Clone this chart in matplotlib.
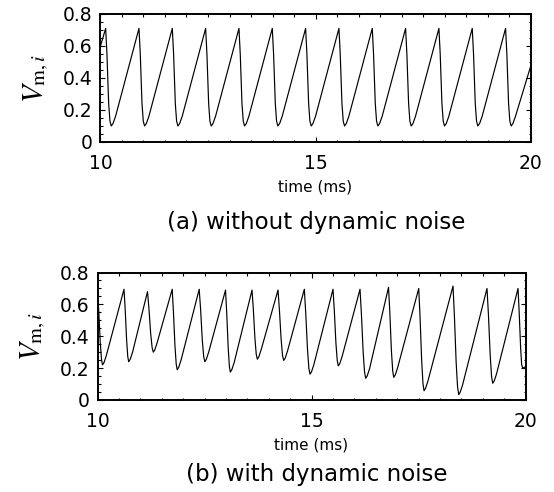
import matplotlib
matplotlib.use("Agg")
import matplotlib.pyplot as plt
from matplotlib.ticker import MultipleLocator

# (a) without dynamic noise: membrane potential trace
top_t = [
    10.00,
    10.12, 10.15, 10.19, 10.22, 10.25, 10.29, 10.35,
    10.895, 10.925, 10.965, 10.995, 11.025, 11.065, 11.125,
    11.67, 11.70, 11.74, 11.77, 11.80, 11.84, 11.90,
    12.445, 12.475, 12.515, 12.545, 12.575, 12.615, 12.675,
    13.22, 13.25, 13.29, 13.32, 13.35, 13.39, 13.45,
    13.995, 14.025, 14.065, 14.095, 14.125, 14.165, 14.225,
    14.77, 14.80, 14.84, 14.87, 14.90, 14.94, 15.00,
    15.545, 15.575, 15.615, 15.645, 15.675, 15.715, 15.775,
    16.32, 16.35, 16.39, 16.42, 16.45, 16.49, 16.55,
    17.095, 17.125, 17.165, 17.195, 17.225, 17.265, 17.325,
    17.87, 17.90, 17.94, 17.97, 18.00, 18.04, 18.10,
    18.645, 18.675, 18.715, 18.745, 18.775, 18.815, 18.875,
    19.42, 19.45, 19.49, 19.52, 19.55, 19.59, 19.65,
    20.00,
]
top_v = [
    0.60,
    0.71, 0.55, 0.24, 0.13, 0.10, 0.115, 0.16,
    0.71, 0.55, 0.24, 0.13, 0.10, 0.115, 0.16,
    0.71, 0.55, 0.24, 0.13, 0.10, 0.115, 0.16,
    0.71, 0.55, 0.24, 0.13, 0.10, 0.115, 0.16,
    0.71, 0.55, 0.24, 0.13, 0.10, 0.115, 0.16,
    0.71, 0.55, 0.24, 0.13, 0.10, 0.115, 0.16,
    0.71, 0.55, 0.24, 0.13, 0.10, 0.115, 0.16,
    0.71, 0.55, 0.24, 0.13, 0.10, 0.115, 0.16,
    0.71, 0.55, 0.24, 0.13, 0.10, 0.115, 0.16,
    0.71, 0.55, 0.24, 0.13, 0.10, 0.115, 0.16,
    0.71, 0.55, 0.24, 0.13, 0.10, 0.115, 0.16,
    0.71, 0.55, 0.24, 0.13, 0.10, 0.115, 0.16,
    0.71, 0.55, 0.24, 0.13, 0.10, 0.115, 0.16,
    0.47,
]

# (b) with dynamic noise
bot_t = [
    10.000, 10.029, 10.064, 10.094, 10.117, 10.152, 10.207,
    10.619, 10.647, 10.680, 10.707, 10.729, 10.764, 10.819,
    11.168, 11.202, 11.243, 11.277, 11.304, 11.339, 11.394,
    11.745, 11.774, 11.809, 11.839, 11.862, 11.897, 11.952,
    12.376, 12.409, 12.448, 12.481, 12.507, 12.542, 12.597,
    12.991, 13.019, 13.053, 13.081, 13.103, 13.138, 13.193,
    13.610, 13.641, 13.678, 13.709, 13.734, 13.769, 13.824,
    14.217, 14.250, 14.290, 14.323, 14.350, 14.385, 14.440,
    14.832, 14.865, 14.905, 14.938, 14.965, 15.000, 15.055,
    15.502, 15.533, 15.570, 15.601, 15.626, 15.661, 15.716,
    16.133, 16.166, 16.206, 16.239, 16.266, 16.301, 16.356,
    16.799, 16.830, 16.866, 16.897, 16.921, 16.956, 17.011,
    17.505, 17.536, 17.573, 17.604, 17.629, 17.664, 17.719,
    18.306, 18.339, 18.379, 18.412, 18.439, 18.474, 18.529,
    19.100, 19.134, 19.174, 19.207, 19.234, 19.269, 19.324,
    19.825, 19.852, 19.885, 19.910, 19.935, 19.970, 20.000,
]
bot_v = [
    0.690, 0.558, 0.361, 0.253, 0.220, 0.235, 0.280,
    0.695, 0.568, 0.377, 0.272, 0.240, 0.255, 0.300,
    0.680, 0.574, 0.414, 0.327, 0.300, 0.315, 0.360,
    0.695, 0.554, 0.342, 0.225, 0.190, 0.205, 0.250,
    0.695, 0.568, 0.377, 0.272, 0.240, 0.255, 0.300,
    0.690, 0.546, 0.330, 0.211, 0.175, 0.190, 0.235,
    0.690, 0.568, 0.386, 0.286, 0.256, 0.271, 0.316,
    0.690, 0.566, 0.381, 0.279, 0.248, 0.263, 0.308,
    0.695, 0.546, 0.322, 0.199, 0.162, 0.177, 0.222,
    0.695, 0.560, 0.358, 0.248, 0.214, 0.229, 0.274,
    0.695, 0.538, 0.304, 0.175, 0.136, 0.151, 0.196,
    0.707, 0.549, 0.312, 0.182, 0.142, 0.157, 0.202,
    0.700, 0.520, 0.251, 0.103, 0.058, 0.073, 0.118,
    0.715, 0.524, 0.238, 0.082, 0.034, 0.049, 0.094,
    0.700, 0.533, 0.284, 0.147, 0.105, 0.120, 0.165,
    0.700, 0.550, 0.330, 0.220, 0.200, 0.205, 0.210,
]

x_ticks = [10, 15, 20]
y_ticks = [0, 0.2, 0.4, 0.6, 0.8]
y_ticklabels = ["0", "0.2", "0.4", "0.6", "0.8"]
captions = ["(a) without dynamic noise", "(b) with dynamic noise"]

plt.rcParams["mathtext.fontset"] = "stix"

fig = plt.figure(figsize=(5.54, 4.92), dpi=100)
ax_top = fig.add_axes([0.1814, 0.7114, 0.7762, 0.2602])
ax_bot = fig.add_axes([0.1760, 0.1870, 0.7726, 0.2591])


def style_axes(ax):
    ax.set_xlim(10, 20)
    ax.set_ylim(0, 0.8)
    ax.set_xticks(x_ticks)
    ax.set_xticklabels([str(x) for x in x_ticks])
    ax.set_yticks(y_ticks)
    ax.set_yticklabels(y_ticklabels)
    ax.xaxis.set_minor_locator(MultipleLocator(0.5))
    ax.yaxis.set_minor_locator(MultipleLocator(0.05))
    ax.tick_params(which="both", direction="in", top=True, right=True, width=0.8)
    ax.tick_params(which="major", length=3.5, labelsize=13.5)
    ax.tick_params(which="minor", length=1.8)
    ax.tick_params(axis="x", pad=9)
    ax.tick_params(axis="y", pad=6)
    for sp in ax.spines.values():
        sp.set_linewidth(1.4)
    ax.set_xlabel("time (ms)", fontsize=11, labelpad=4)
    ax.set_ylabel(r"$V_{\mathrm{m},i}$", fontsize=21, labelpad=8)


ax_top.plot(top_t, top_v, color="black", lw=0.85)
ax_bot.plot(bot_t, bot_v, color="black", lw=0.85)
style_axes(ax_top)
style_axes(ax_bot)

fig.text(0.571, 1 - 222 / 492, captions[0], ha="center", va="center", fontsize=16.5)
fig.text(0.571, 1 - 474 / 492, captions[1], ha="center", va="center", fontsize=16.5)

fig.savefig("out.png", dpi=100)
